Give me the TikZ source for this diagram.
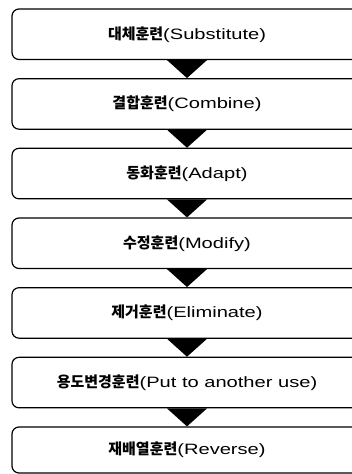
\documentclass[tikz,border=0pt]{standalone}
\usepackage{fontspec}
\setmainfont{Liberation Sans}[FakeStretch=1.34]
\newfontfamily\kr{Noto Sans CJK KR}
\begin{document}
\begin{tikzpicture}[x=1pt,y=-1pt,
  stepbox/.style={draw=black, line width=1.2pt, rounded corners=7pt, fill=white,
    minimum width=350pt, minimum height=50.5pt, inner sep=0pt,
    font=\fontsize{15}{17}\selectfont},
  tri/.style={fill=black}]
\useasboundingbox (0,0) rectangle (352,474);
\clip (0,0) rectangle (352,474);
\node[stepbox] (b1) at (187,34.25)  {{\kr\bfseries 대체훈련}(Substitute)};
\node[stepbox] (b2) at (187,103.92) {{\kr\bfseries 결합훈련}(Combine)};
\node[stepbox] (b3) at (187,173.58) {{\kr\bfseries 동화훈련}(Adapt)};
\node[stepbox] (b4) at (187,243.25) {{\kr\bfseries 수정훈련}(Modify)};
\node[stepbox] (b5) at (187,312.92) {{\kr\bfseries 제거훈련}(Eliminate)};
\node[stepbox] (b6) at (187,382.58) {{\kr\bfseries 용도변경훈련}(Put to another use)};
\node[stepbox, minimum height=46pt] (b7) at (187,450) {{\kr\bfseries 재배열훈련}(Reverse)};
\foreach \a/\b in {b1/b2,b2/b3,b3/b4,b4/b5,b5/b6,b6/b7}
  \fill[tri] ([xshift=-20pt]\a.south) -- ([xshift=20pt]\a.south) -- (\b.north) -- cycle;
\end{tikzpicture}
\end{document}
